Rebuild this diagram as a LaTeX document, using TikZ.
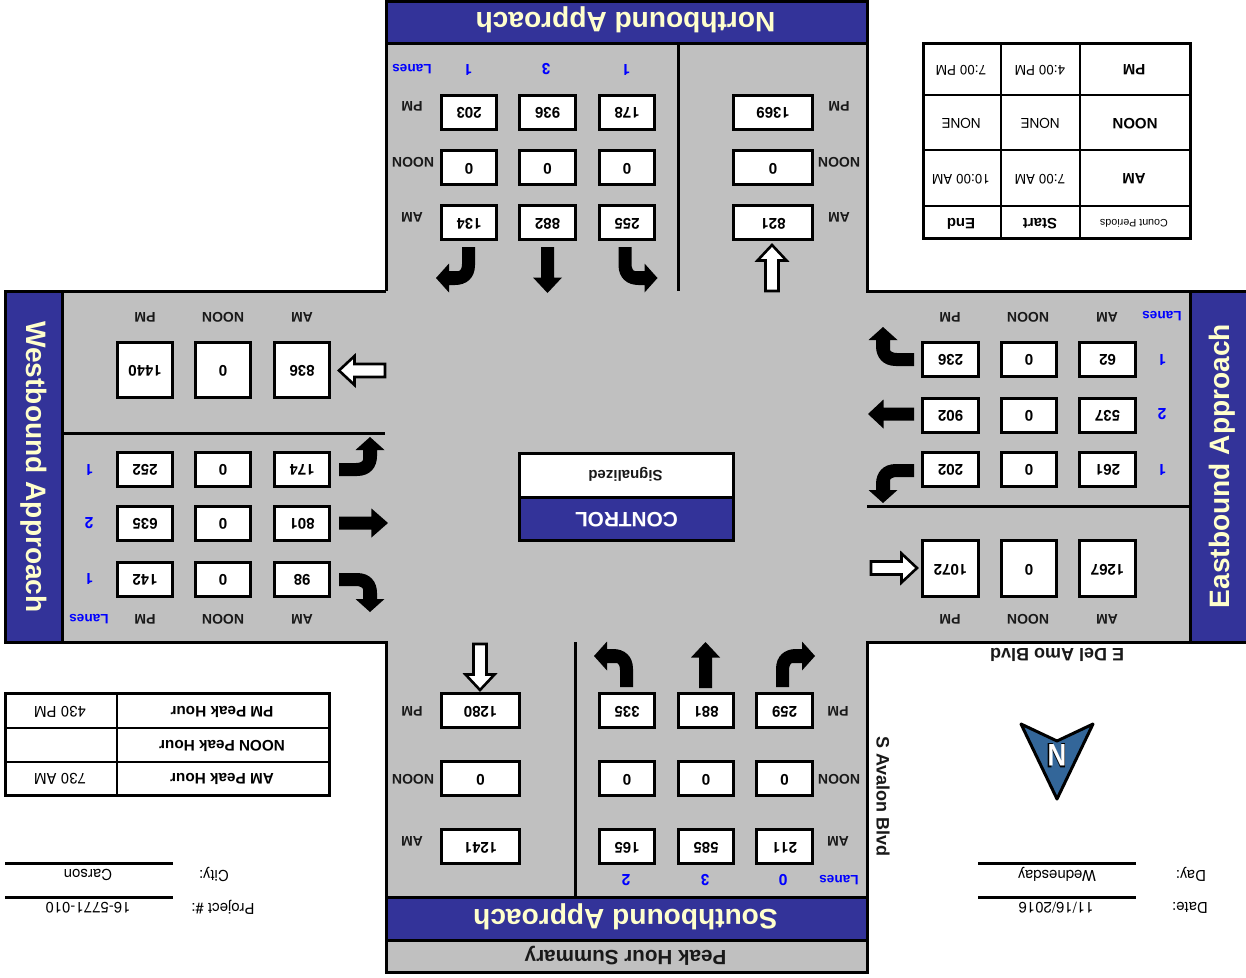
\documentclass[tikz,border=0pt]{standalone}
\usepackage{fontspec}
\setmainfont{Liberation Sans}
\newfontfamily\numfont{TeX Gyre Heros}
\definecolor{bandblue}{HTML}{333399}
\definecolor{cream}{HTML}{FFFFCC}
\definecolor{panelgray}{HTML}{C0C0C0}
\definecolor{compass}{HTML}{336699}
\newcommand{\fs}[1]{\fontsize{#1}{#1}\selectfont}
% value box: name, cx, cy, w, h, text
\newcommand{\vb}[6]{\node[valbox,minimum width=#4pt,minimum height=#5pt] (#1) at (#2,#3) {#6};}
% value box with its text a little higher
\newcommand{\vbu}[6]{\node[valbox,text depth=0pt,minimum width=#4pt,minimum height=#5pt] (#1) at (#2,#3) {#6};}
% plain upside-down label: style, name, x, y, text
\newcommand{\lb}[5]{\node[#1] (#2) at (#3,#4) {#5};}
% solid turn arrow: tail x, tail y, rotation, xscale
\newcommand{\turnarrow}[4]{\begin{scope}[shift={(#1,#2)},rotate=#3,xscale=#4]
\fill[black] (6.5,0) -- (6.5,18) .. controls (6.5,31) and (-2,38) .. (-13.5,38) -- (-19.5,38) -- (-19.5,45.5) -- (-32.5,31) -- (-19.5,16.5) -- (-19.5,24) -- (-10,24) .. controls (-8,24) and (-6.5,21) .. (-6.5,17) -- (-6.5,0) -- cycle;
\end{scope}}
% straight arrow: tail x, tail y, rotation, style
\newcommand{\straightarrow}[4]{\begin{scope}[shift={(#1,#2)},rotate=#3]
\path[#4] (-6.5,0) -- (-6.5,30.5) -- (-14.5,30.5) -- (0,46) -- (14.5,30.5) -- (6.5,30.5) -- (6.5,0) -- cycle;
\end{scope}}
\tikzset{
 valbox/.style={draw=black,line width=3pt,fill=white,inner sep=0pt,rotate=180,font=\fs{15}\numfont\bfseries,text height=10.7pt,text depth=2pt},
 lbl/.style={inner sep=0pt,rotate=180,font=\fs{14}\bfseries,text=black!90,text height=10pt,text depth=1.4pt},
 lanes/.style={inner sep=0pt,rotate=180,font=\fs{13.6}\bfseries,text=blue,text height=9.8pt,text depth=3pt},
 lanenum/.style={inner sep=0pt,rotate=180,font=\fs{15.5}\numfont\bfseries,text=blue},
 bandtext/.style={inner sep=0pt,font=\fs{28.1}\bfseries,text=cream},
 celltext/.style={inner sep=0pt,rotate=180,font=\fs{13.5}\numfont},
 cellbold/.style={inner sep=0pt,rotate=180,font=\fs{15}\bfseries},
 peakbold/.style={inner sep=0pt,rotate=180,font=\fs{15.3}\bfseries},
 infotext/.style={inner sep=0pt,rotate=180,font=\fs{15}\numfont},
 rule/.style={draw=black,line width=3pt},
 blacksolid/.style={fill=black},
 whitearrow/.style={draw=black,line width=2.6pt,fill=white,miter limit=4}
}
\begin{document}
\begin{tikzpicture}[x=1pt,y=-1pt]
\useasboundingbox (0,0) rectangle (1246,977);
\fill[white] (0,0) rectangle (1246,977);
% cross-shaped panel
\path[fill=panelgray] (386,1) -- (867,1) -- (867,291) -- (1246,291) -- (1246,642) -- (867,642) -- (867,972) -- (386,972) -- (386,642) -- (5.5,642) -- (5.5,291) -- (386,291) -- cycle;
% bands
\fill[bandblue] (386,1) rectangle (867,43);
\fill[bandblue] (386,897) rectangle (867,940);
\fill[bandblue] (5.5,291) rectangle (62,642);
\fill[bandblue] (1190,291) rectangle (1246,642);
\draw[rule] (386,291) -- (386,1) -- (867,1) -- (867,291) -- (1246,291);
\draw[rule] (1246,642) -- (867,642) -- (867,972) -- (386,972) -- (386,642) -- (5.5,642) -- (5.5,291) -- (386,291);
% dividers
\draw[rule] (386,43) -- (867,43);
\draw[rule] (386,897) -- (867,897);
\draw[rule] (386,940) -- (867,940);
\draw[rule] (62,291) -- (62,642);
\draw[rule] (1190.5,291) -- (1190.5,642);
\draw[rule] (678,43) -- (678,291);
\draw[rule] (575.5,642) -- (575.5,897);
\draw[rule] (62,433) -- (385,433);
\draw[rule] (867,506) -- (1190,506);
% band titles
\node[bandtext,rotate=180] (ntitle) at (625.5,20) {Northbound Approach};
\node[bandtext,rotate=180] (stitle) at (625.5,917) {Southbound Approach};
\node[bandtext,rotate=-90] (wtitle) at (34,467) {Westbound Approach};
\node[bandtext,rotate=90] (etitle) at (1222,466) {Eastbound Approach};
\node[inner sep=0pt,rotate=180,font=\fs{20.6}\bfseries,text=black!90] (summary) at (625.5,956) {Peak Hour Summary};
% North boxes
\vb{n11}{469}{112}{55}{34}{203}\vb{n12}{547.5}{112}{56}{34}{936}\vb{n13}{627}{112}{55}{34}{178}\vb{n14}{773}{112}{79}{34}{1369}
\vb{n21}{469}{167.5}{55}{34}{0}\vb{n22}{547.5}{167.5}{56}{34}{0}\vb{n23}{627}{167.5}{55}{34}{0}\vb{n24}{773}{167.5}{79}{34}{0}
\vb{n31}{469}{222.5}{55}{34}{134}\vb{n32}{547.5}{222.5}{56}{34}{882}\vb{n33}{627}{222.5}{55}{34}{255}\vb{n34}{773}{222.5}{79}{34}{821}
\lb{lbl}{npm}{412}{106}{PM}\lb{lbl}{nno}{413}{162}{NOON}\lb{lbl}{nam}{412}{217}{AM}
\lb{lbl}{npmr}{839}{106}{PM}\lb{lbl}{nnor}{839}{162}{NOON}\lb{lbl}{namr}{839}{217}{AM}
\lb{lanes}{nlan}{412}{68}{Lanes}\lb{lanenum}{nl1}{468}{69.5}{1}\lb{lanenum}{nl2}{546}{69.5}{3}\lb{lanenum}{nl3}{626}{69.5}{1}
% West boxes
\vb{w11}{145}{370}{55}{55}{1440}\vb{w12}{223}{370}{55}{55}{0}\vb{w13}{302}{370}{55}{55}{836}
\vbu{w21}{145}{469.5}{55}{34}{252}\vbu{w22}{223}{469.5}{55}{34}{0}\vbu{w23}{302}{469.5}{55}{34}{174}
\vbu{w31}{145}{523.5}{55}{34}{635}\vbu{w32}{223}{523.5}{55}{34}{0}\vbu{w33}{302}{523.5}{55}{34}{801}
\vbu{w41}{145}{579.5}{55}{34}{142}\vbu{w42}{223}{579.5}{55}{34}{0}\vbu{w43}{302}{579.5}{55}{34}{98}
\lb{lbl}{wpm}{145}{317}{PM}\lb{lbl}{wno}{223}{317}{NOON}\lb{lbl}{wam}{302}{317}{AM}
\lb{lbl}{wpmb}{145}{619}{PM}\lb{lbl}{wnob}{223}{619}{NOON}\lb{lbl}{wamb}{302}{619}{AM}
\lb{lanes}{wlan}{89}{618}{Lanes}\lb{lanenum}{wl1}{89}{469.5}{1}\lb{lanenum}{wl2}{89}{523.5}{2}\lb{lanenum}{wl3}{89}{578.5}{1}
% East boxes
\vbu{e11}{950.5}{359.5}{56}{34}{236}\vbu{e12}{1029}{359.5}{55}{34}{0}\vbu{e13}{1107.5}{359.5}{56}{34}{62}
\vbu{e21}{950.5}{415.5}{56}{34}{902}\vbu{e22}{1029}{415.5}{55}{34}{0}\vbu{e23}{1107.5}{415.5}{56}{34}{537}
\vbu{e31}{950.5}{469.5}{56}{34}{202}\vbu{e32}{1029}{469.5}{55}{34}{0}\vbu{e33}{1107.5}{469.5}{56}{34}{261}
\vb{e41}{950.5}{568.5}{56}{56}{1072}\vb{e42}{1029}{568.5}{55}{56}{0}\vb{e43}{1107.5}{568.5}{56}{56}{1267}
\lb{lbl}{epm}{950}{317}{PM}\lb{lbl}{eno}{1028}{317}{NOON}\lb{lbl}{eam}{1107}{317}{AM}
\lb{lbl}{epmb}{950}{619}{PM}\lb{lbl}{enob}{1028}{619}{NOON}\lb{lbl}{eamb}{1107}{619}{AM}
\lb{lanes}{elan}{1162}{315}{Lanes}\lb{lanenum}{el1}{1162}{359.5}{1}\lb{lanenum}{el2}{1162}{414.5}{2}\lb{lanenum}{el3}{1162}{469.5}{1}
% South boxes
\vb{s11}{480.5}{710.5}{78}{34}{1280}\vb{s12}{627}{710.5}{55}{34}{335}\vb{s13}{706}{710.5}{55}{34}{881}\vb{s14}{784.5}{710.5}{56}{34}{259}
\vb{s21}{480.5}{778.5}{78}{34}{0}\vb{s22}{627}{778.5}{55}{34}{0}\vb{s23}{706}{778.5}{55}{34}{0}\vb{s24}{784.5}{778.5}{56}{34}{0}
\vb{s31}{480.5}{846.5}{78}{34}{1241}\vb{s32}{627}{846.5}{55}{34}{165}\vb{s33}{706}{846.5}{55}{34}{585}\vb{s34}{784.5}{846.5}{56}{34}{211}
\lb{lbl}{spm}{412}{711}{PM}\lb{lbl}{sno}{413}{779}{NOON}\lb{lbl}{sam}{412}{841}{AM}
\lb{lbl}{spmr}{838}{711}{PM}\lb{lbl}{snor}{839}{779}{NOON}\lb{lbl}{samr}{838}{841}{AM}
\lb{lanes}{slan}{839}{879}{Lanes}\lb{lanenum}{sl1}{626}{880.5}{2}\lb{lanenum}{sl2}{705}{880.5}{3}\lb{lanenum}{sl3}{783}{880.5}{0}
% turn arrows
\turnarrow{468.5}{247}{0}{1}
\turnarrow{625}{247}{0}{-1}
\turnarrow{339}{469.5}{90}{-1}
\turnarrow{339}{579.5}{90}{1}
\turnarrow{914}{359.5}{-90}{1}
\turnarrow{914}{470.5}{-90}{-1}
\turnarrow{626.5}{687}{180}{-1}
\turnarrow{782.5}{687}{180}{1}
% straight arrows
\straightarrow{547.5}{247}{0}{blacksolid}
\straightarrow{339}{523}{90,yscale=1.065}{blacksolid}
\straightarrow{914}{414}{-90}{blacksolid}
\straightarrow{705.5}{688}{180}{blacksolid}
\straightarrow{772}{291}{180}{whitearrow}
\straightarrow{385}{370.5}{-90}{whitearrow}
\straightarrow{871}{568}{90}{whitearrow}
\straightarrow{480}{644}{0}{whitearrow}
% control box
\draw[rule,fill=white] (519.5,453) rectangle (733,497);
\draw[rule,fill=bandblue] (519.5,497) rectangle (733,540);
\node[inner sep=0pt,rotate=180,font=\fs{15}\bfseries,text=black!90] (sig) at (625.5,474) {Signalized};
\node[inner sep=0pt,rotate=180,font=\fs{20.8}\bfseries,text=white] (ctl) at (626.5,519.5) {CONTROL};
% count period table
\draw[rule] (923,43.5) rectangle (1190,238.5);
\draw[rule,line width=2.5pt] (1001,44) -- (1001,238) (1080,44) -- (1080,238) (923,95) -- (1190,95) (923,150) -- (1190,150) (923,206) -- (1190,206);
\lb{cellbold}{tpm}{1134}{70}{PM}\lb{cellbold}{tno}{1135}{124}{NOON}\lb{cellbold}{tam}{1134}{179}{AM}
\lb{celltext}{t1}{1040}{70}{4:00 PM}\lb{celltext}{t2}{961}{70}{7:00 PM}
\lb{celltext}{t3}{1040}{123.5}{NONE}\lb{celltext}{t4}{961}{123.5}{NONE}
\lb{celltext}{t5}{1040}{179}{7:00 AM}\lb{celltext}{t6}{961}{179}{10:00 AM}
\node[inner sep=0pt,rotate=180,font=\fs{10.7}] (t7) at (1134,223) {Count Periods};
\lb{cellbold}{t8}{1040}{223.5}{Start}\lb{cellbold}{t9}{961}{223.5}{End}
% peak table
\draw[rule] (5.5,693.5) rectangle (329,795);
\draw[rule,line width=2.5pt] (117,694) -- (117,795) (5.5,728) -- (329,728) (5.5,762) -- (329,762);
\lb{peakbold}{p1}{222}{711.5}{PM Peak Hour}
\lb{peakbold}{p2}{222}{745.5}{NOON Peak Hour}
\lb{peakbold}{p3}{222}{778.5}{AM Peak Hour}
\lb{infotext}{p4}{60}{711.5}{430 PM}\lb{infotext}{p5}{60}{778.5}{730 AM}
% info lines
\draw[rule] (5,863) -- (173,863) (5,897) -- (173,897) (978,863) -- (1136,863) (978,897) -- (1136,897);
\lb{infotext}{city}{88}{874.5}{Carson}\lb{infotext}{cityl}{214}{874}{City:}
\lb{infotext}{proj}{88}{907.5}{16-5771-010}\lb{infotext}{projl}{223}{907}{Project \#:}
\lb{infotext}{day}{1057}{874.5}{Wednesday}\lb{infotext}{dayl}{1191}{874.5}{Day:}
\lb{infotext}{date}{1056}{908}{11/16/2016}\lb{infotext}{datel}{1190}{908}{Date:}
\node[inner sep=0pt,rotate=180,font=\fs{18}\bfseries,text=black!90] (ea) at (1057,655) {E Del Amo Blvd};
\node[inner sep=0pt,rotate=-90,font=\fs{18}\bfseries,text=black!90] (av) at (883,796.5) {S Avalon Blvd};
% north arrow
\draw[line width=3pt,line join=round,fill=compass] (1021,724) -- (1057,741) -- (1093,724) -- (1057,799) -- cycle;
\node[inner sep=0pt,rotate=180,transform shape,yscale=1.2,font=\fs{29.5}\bfseries,text=black] (northout) at (1057,755.5) {N};
\node[inner sep=0pt,rotate=180,transform shape,yscale=1.2,font=\fs{26}\bfseries,text=white] (north) at (1057,755.5) {N};
\end{tikzpicture}
\end{document}
